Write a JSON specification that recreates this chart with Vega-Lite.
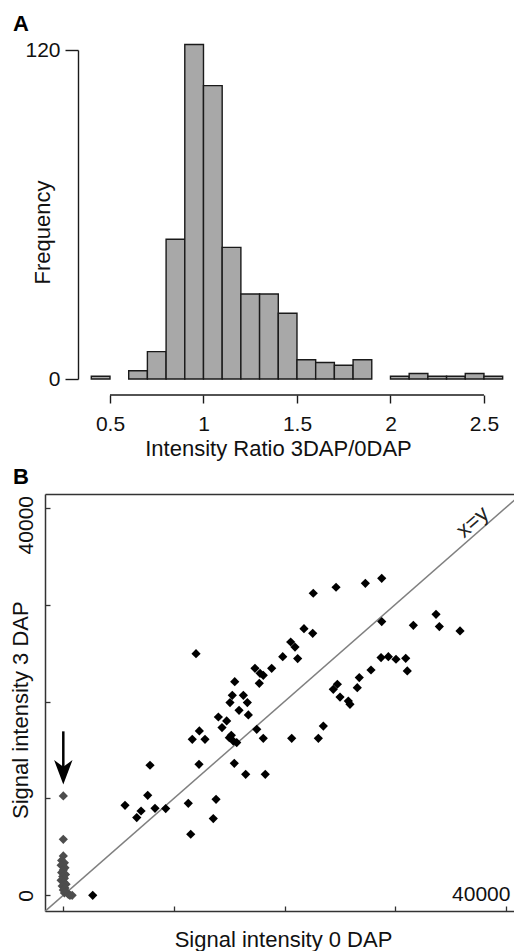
{
  "$schema": "https://vega.github.io/schema/vega-lite/v6.json",
  "background": "white",
  "padding": {"left": 9, "top": 13, "right": 0, "bottom": 0},
  "bounds": "flush",
  "spacing": 115,
  "config": {
    "font": "Liberation Sans",
    "view": {"stroke": null},
    "axis": {"grid": false, "labelColor": "#111", "titleColor": "#111", "titleFontWeight": "normal", "labelOverlap": false, "labelFlush": false}
  },
  "datasets": {
    "hist": [
      {"start": 0.4, "end": 0.5, "count": 1},
      {"start": 0.6, "end": 0.7, "count": 3},
      {"start": 0.7, "end": 0.8, "count": 10},
      {"start": 0.8, "end": 0.9, "count": 51},
      {"start": 0.9, "end": 1.0, "count": 122},
      {"start": 1.0, "end": 1.1, "count": 107},
      {"start": 1.1, "end": 1.2, "count": 48},
      {"start": 1.2, "end": 1.3, "count": 31},
      {"start": 1.3, "end": 1.4, "count": 31},
      {"start": 1.4, "end": 1.5, "count": 24},
      {"start": 1.5, "end": 1.6, "count": 7},
      {"start": 1.6, "end": 1.7, "count": 6},
      {"start": 1.7, "end": 1.8, "count": 5},
      {"start": 1.8, "end": 1.9, "count": 7},
      {"start": 2.0, "end": 2.1, "count": 1},
      {"start": 2.1, "end": 2.2, "count": 2},
      {"start": 2.2, "end": 2.3, "count": 1},
      {"start": 2.3, "end": 2.4, "count": 1},
      {"start": 2.4, "end": 2.5, "count": 2},
      {"start": 2.5, "end": 2.6, "count": 1}
    ],
    "histaxis": [{"from": 0.5, "to": 2.5, "level": -5.84}],
    "diag": [{"x": -3000, "y": -3000}, {"x": 45000, "y": 45000}],
    "scatter": [
      {"x": 12000, "y": 24940, "group": "main"},
      {"x": 22600, "y": 31170, "group": "main"},
      {"x": 24660, "y": 31790, "group": "main"},
      {"x": 27310, "y": 32200, "group": "main"},
      {"x": 28790, "y": 32710, "group": "main"},
      {"x": 28790, "y": 28250, "group": "main"},
      {"x": 31650, "y": 27860, "group": "main"},
      {"x": 33700, "y": 29000, "group": "main"},
      {"x": 34000, "y": 27730, "group": "main"},
      {"x": 35870, "y": 27280, "group": "main"},
      {"x": 21760, "y": 27520, "group": "main"},
      {"x": 22550, "y": 27040, "group": "main"},
      {"x": 20560, "y": 26140, "group": "main"},
      {"x": 20950, "y": 25620, "group": "main"},
      {"x": 19840, "y": 24630, "group": "main"},
      {"x": 21190, "y": 24430, "group": "main"},
      {"x": 18840, "y": 23430, "group": "main"},
      {"x": 17330, "y": 23430, "group": "main"},
      {"x": 17790, "y": 22910, "group": "main"},
      {"x": 18080, "y": 22700, "group": "main"},
      {"x": 17720, "y": 21880, "group": "main"},
      {"x": 15500, "y": 22050, "group": "main"},
      {"x": 15280, "y": 20640, "group": "main"},
      {"x": 16280, "y": 20640, "group": "main"},
      {"x": 15070, "y": 19890, "group": "main"},
      {"x": 16640, "y": 19890, "group": "main"},
      {"x": 15890, "y": 19090, "group": "main"},
      {"x": 16730, "y": 18610, "group": "main"},
      {"x": 14020, "y": 18400, "group": "main"},
      {"x": 14770, "y": 17990, "group": "main"},
      {"x": 14350, "y": 17310, "group": "main"},
      {"x": 12300, "y": 16960, "group": "main"},
      {"x": 11660, "y": 16100, "group": "main"},
      {"x": 12810, "y": 16100, "group": "main"},
      {"x": 15010, "y": 16270, "group": "main"},
      {"x": 15190, "y": 16510, "group": "main"},
      {"x": 15370, "y": 15920, "group": "main"},
      {"x": 15680, "y": 15760, "group": "main"},
      {"x": 17490, "y": 17130, "group": "main"},
      {"x": 18080, "y": 16200, "group": "main"},
      {"x": 20650, "y": 16200, "group": "main"},
      {"x": 23060, "y": 16200, "group": "main"},
      {"x": 23510, "y": 17470, "group": "main"},
      {"x": 24410, "y": 21260, "group": "main"},
      {"x": 24780, "y": 21780, "group": "main"},
      {"x": 25020, "y": 20460, "group": "main"},
      {"x": 25770, "y": 20050, "group": "main"},
      {"x": 25920, "y": 19710, "group": "main"},
      {"x": 26580, "y": 21430, "group": "main"},
      {"x": 26760, "y": 22470, "group": "main"},
      {"x": 27820, "y": 23250, "group": "main"},
      {"x": 28730, "y": 24530, "group": "main"},
      {"x": 29390, "y": 24630, "group": "main"},
      {"x": 30080, "y": 24360, "group": "main"},
      {"x": 30960, "y": 24460, "group": "main"},
      {"x": 31100, "y": 23150, "group": "main"},
      {"x": 7840, "y": 13420, "group": "main"},
      {"x": 12270, "y": 13520, "group": "main"},
      {"x": 15460, "y": 13620, "group": "main"},
      {"x": 16490, "y": 12490, "group": "main"},
      {"x": 18260, "y": 12490, "group": "main"},
      {"x": 5580, "y": 9290, "group": "main"},
      {"x": 6640, "y": 8020, "group": "main"},
      {"x": 7030, "y": 8700, "group": "main"},
      {"x": 7630, "y": 10320, "group": "main"},
      {"x": 8290, "y": 8980, "group": "main"},
      {"x": 9260, "y": 8950, "group": "main"},
      {"x": 11300, "y": 9490, "group": "main"},
      {"x": 13810, "y": 9910, "group": "main"},
      {"x": 13560, "y": 7920, "group": "main"},
      {"x": 11520, "y": 6300, "group": "main"},
      {"x": 2660, "y": 0, "group": "main"},
      {"x": 0, "y": 10250, "group": "low"},
      {"x": 0, "y": 5780, "group": "low"},
      {"x": 0, "y": 4060, "group": "low"},
      {"x": -150, "y": 3600, "group": "low"},
      {"x": 100, "y": 3350, "group": "low"},
      {"x": -200, "y": 3100, "group": "low"},
      {"x": 150, "y": 2850, "group": "low"},
      {"x": 0, "y": 2600, "group": "low"},
      {"x": -150, "y": 2350, "group": "low"},
      {"x": 200, "y": 2150, "group": "low"},
      {"x": -50, "y": 1950, "group": "low"},
      {"x": 100, "y": 1750, "group": "low"},
      {"x": -200, "y": 1550, "group": "low"},
      {"x": 50, "y": 1350, "group": "low"},
      {"x": 250, "y": 1150, "group": "low"},
      {"x": -100, "y": 950, "group": "low"},
      {"x": 150, "y": 750, "group": "low"},
      {"x": 0, "y": 550, "group": "low"},
      {"x": 300, "y": 350, "group": "low"},
      {"x": 100, "y": 250, "group": "low"},
      {"x": 450, "y": 100, "group": "low"},
      {"x": 600, "y": 0, "group": "low"},
      {"x": 800, "y": 0, "group": "low"}
    ],
    "arrow": [{"x": 0, "y": 16920, "y2": 13000, "head": 12690}],
    "diagLabel": [{"x": 37000, "y": 38530, "text": "x=y"}],
    "cornerLabel": [{"x": 35150, "y": 0, "text": "40000"}]
  },
  "vconcat": [
    {
      "width": 461.4,
      "height": 329,
      "title": {"text": "A", "anchor": "start", "frame": "group", "dx": -32, "fontSize": 22, "fontWeight": "bold", "baseline": "alphabetic", "offset": -14, "color": "#000"},
      "layer": [
        {
          "data": {"name": "hist"},
          "mark": {"type": "rect", "fill": "#a8a8a8", "stroke": "#1a1a1a", "strokeWidth": 1.4},
          "encoding": {
            "x": {
              "field": "start", "type": "quantitative",
              "scale": {"domain": [0.1524, 2.62], "nice": false, "zero": false},
              "axis": {
                "values": [0.5, 1, 1.5, 2, 2.5], "format": "~g", "domain": false,
                "tickSize": 8, "tickWidth": 1.4, "tickColor": "#1a1a1a", "offset": 16,
                "labelFontSize": 21, "labelPadding": 10,
                "title": "Intensity Ratio 3DAP/0DAP", "titleFontSize": 22, "titlePadding": 4, "titleX": 233
              }
            },
            "x2": {"field": "end"},
            "y": {
              "field": "count", "type": "quantitative",
              "scale": {"domain": [0, 120], "nice": false},
              "axis": {
                "values": [0, 120], "offset": -33, "tickSize": 13, "tickWidth": 1.4, "tickColor": "#1a1a1a",
                "domainWidth": 1.4, "domainColor": "#1a1a1a",
                "labelFontSize": 21, "labelPadding": 5,
                "title": "Frequency", "titleFontSize": 22, "titleX": -35.5, "titleY": 182, "titleBaseline": "middle"
              }
            },
            "y2": {"datum": 0}
          }
        },
        {
          "data": {"name": "histaxis"},
          "mark": {"type": "rule", "stroke": "#1a1a1a", "strokeWidth": 1.4},
          "encoding": {
            "x": {"field": "from", "type": "quantitative"},
            "x2": {"field": "to"},
            "y": {"field": "level", "type": "quantitative"}
          }
        }
      ]
    },
    {
      "width": 469,
      "height": 417,
      "title": {"text": "B", "anchor": "start", "frame": "group", "dx": -32, "fontSize": 22, "fontWeight": "bold", "baseline": "alphabetic", "offset": -12, "color": "#000"},
      "resolve": {"axis": {"x": "independent", "y": "independent"}},
      "layer": [
        {
          "data": {"name": "diag"},
          "mark": {"type": "line", "clip": true, "stroke": "#808080", "strokeWidth": 1.5},
          "encoding": {
            "x": {"field": "x", "type": "quantitative", "scale": {"domain": [-1655, 40750], "nice": false, "zero": false},
              "axis": {"orient": "top", "ticks": false, "labels": false, "title": null, "domainColor": "#333", "domainWidth": 1.5}},
            "y": {"field": "y", "type": "quantitative", "scale": {"domain": [-1620, 41414], "nice": false, "zero": false}, "axis": null}
          }
        },
        {
          "data": {"name": "scatter"},
          "mark": {"type": "point", "shape": "diamond", "filled": true, "size": 85, "opacity": 1},
          "encoding": {
            "x": {"field": "x", "type": "quantitative", "scale": {"domain": [-1655, 40750], "nice": false, "zero": false},
              "axis": {
                "orient": "bottom", "values": [0, 10000, 20000, 30000, 40000], "labels": false,
                "domainColor": "#333", "domainWidth": 1.5, "tickSize": -5, "tickWidth": 1.3, "tickColor": "#333",
                "title": "Signal intensity 0 DAP", "titleFontSize": 22, "titlePadding": 18, "titleX": 238
              }},
            "y": {"field": "y", "type": "quantitative", "scale": {"domain": [-1620, 41414], "nice": false, "zero": false},
              "axis": {
                "values": [0, 10000, 20000, 30000, 40000], "format": "d",
                "labelExpr": "datum.value == 0 || datum.value == 40000 ? datum.label : ''",
                "labelAngle": -90, "labelFontSize": 21, "labelPadding": 14,
                "labelOffset": {"condition": {"test": "datum.value == 40000", "value": 17}, "value": 0},
                "tickSize": -5, "tickWidth": 1.3, "tickColor": "#333", "domainColor": "#333", "domainWidth": 1.5,
                "title": "Signal intensity 3 DAP", "titleFontSize": 22, "titleX": -25, "titleY": 215.7, "titleBaseline": "middle"
              }},
            "color": {"field": "group", "type": "nominal", "scale": {"domain": ["main", "low"], "range": ["#000000", "#4d4d4d"]}, "legend": null}
          }
        },
        {
          "data": {"name": "arrow"},
          "mark": {"type": "rule", "stroke": "#000", "strokeWidth": 2.5},
          "encoding": {
            "x": {"field": "x", "type": "quantitative", "axis": null},
            "y": {"field": "y", "type": "quantitative", "axis": null},
            "y2": {"field": "y2"}
          }
        },
        {
          "data": {"name": "arrow"},
          "mark": {"type": "point", "shape": "M0,1L-0.75,-1L0,-0.45L0.75,-1Z", "filled": true, "size": 600, "color": "#000", "opacity": 1},
          "encoding": {
            "x": {"field": "x", "type": "quantitative", "axis": null},
            "y": {"field": "head", "type": "quantitative", "axis": null}
          }
        },
        {
          "data": {"name": "diagLabel"},
          "mark": {"type": "text", "angle": -41, "fontSize": 22, "align": "center", "baseline": "middle", "color": "#222"},
          "encoding": {
            "x": {"field": "x", "type": "quantitative", "axis": null},
            "y": {"field": "y", "type": "quantitative", "axis": null},
            "text": {"field": "text"}
          }
        },
        {
          "data": {"name": "cornerLabel"},
          "mark": {"type": "text", "fontSize": 21, "align": "left", "baseline": "middle", "color": "#111"},
          "encoding": {
            "x": {"field": "x", "type": "quantitative", "axis": null},
            "y": {"field": "y", "type": "quantitative", "axis": null},
            "text": {"field": "text"}
          }
        }
      ]
    }
  ]
}
